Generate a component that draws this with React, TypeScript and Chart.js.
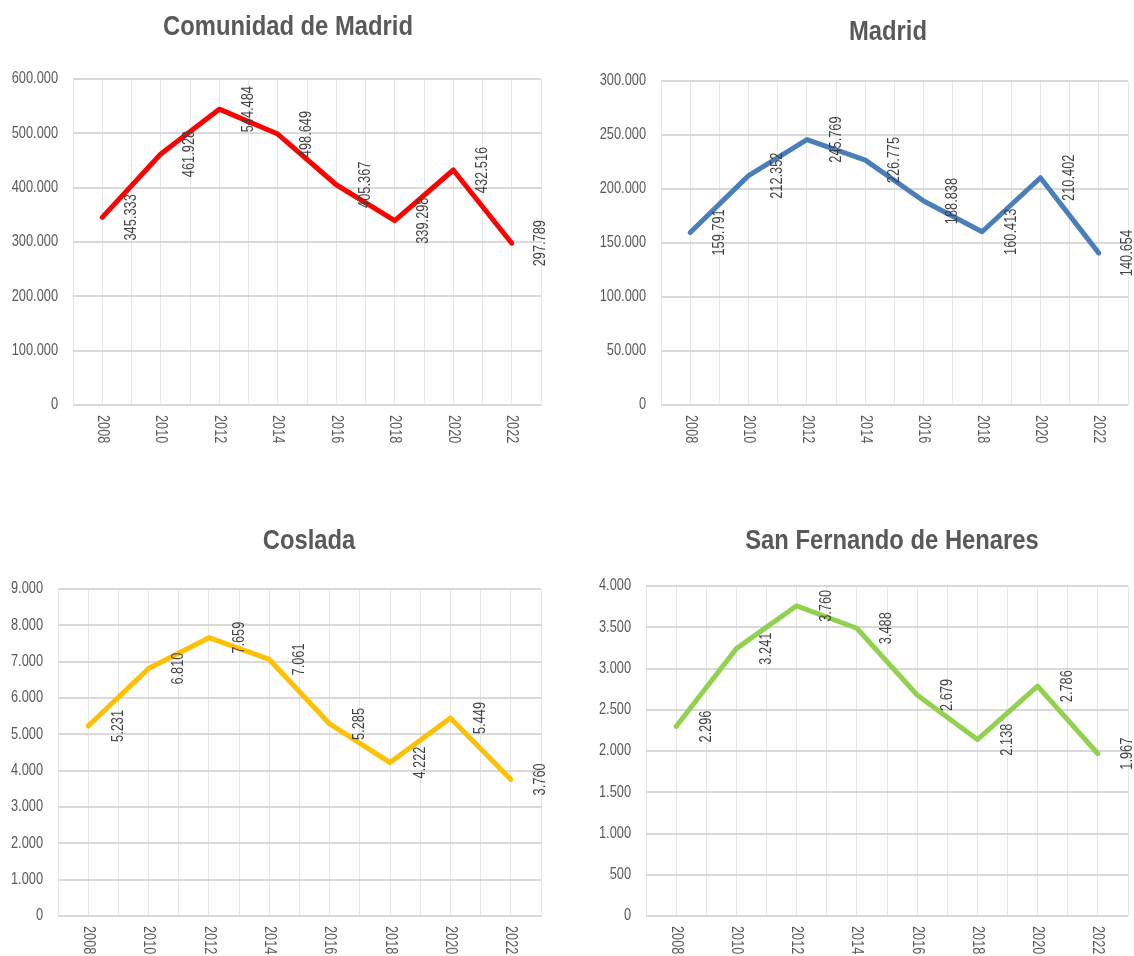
import React, { useEffect, useRef } from 'react';
import { Chart, registerables } from 'chart.js';

Chart.register(...registerables);

// ---------- data ----------
const YEARS = [2008, 2010, 2012, 2014, 2016, 2018, 2020, 2022];
const COMUNIDAD_MADRID = [345333, 461928, 544484, 498649, 405367, 339298, 432516, 297789];
const MADRID = [159791, 212352, 245769, 226775, 188838, 160413, 210402, 140654];
const COSLADA = [5231, 6810, 7659, 7061, 5285, 4222, 5449, 3760];
const SAN_FERNANDO = [2296, 3241, 3760, 3488, 2679, 2138, 2786, 1967];

const TITLES = ['Comunidad de Madrid', 'Madrid', 'Coslada', 'San Fernando de Henares'];
const SERIES = [COMUNIDAD_MADRID, MADRID, COSLADA, SAN_FERNANDO];
const Y_MAX = [600000, 300000, 9000, 4000];
const Y_STEP = [100000, 50000, 1000, 500];

// ---------- styles / layout ----------
const COLORS = ['#FF0000', '#4A7EBB', '#FFC000', '#92D050'];
const FONT = '"Liberation Sans", Arial, sans-serif';
const TEXT = '#595959';
const LABEL = '#404040';
const TITLE_SQUEEZE = 0.85; // horizontal squeeze to imitate a narrow typeface
const SMALL_SQUEEZE = 0.8;

// canvas placement and plot area (page px)
const PANELS = [
  { x: 0, y: 0, w: 567, h: 478, left: 73, right: 541, top: 79, bottom: 405, tx: 288, ty: 27 },
  { x: 567, y: 0, w: 567, h: 478, left: 661, right: 1128, top: 81, bottom: 405, tx: 888, ty: 32 },
  { x: 0, y: 478, w: 567, h: 478, left: 58, right: 541, top: 589, bottom: 916, tx: 309, ty: 541 },
  { x: 567, y: 478, w: 567, h: 478, left: 646, right: 1128, top: 586, bottom: 916, tx: 892, ty: 541 },
];

const fmt = (v: number) => String(Math.round(v)).replace(/\B(?=(\d{3})+(?!\d))/g, '.');

function drawText(
  ctx: CanvasRenderingContext2D,
  text: string,
  x: number,
  y: number,
  rot: number,
  align: CanvasTextAlign,
  squeeze: number,
) {
  ctx.save();
  ctx.translate(x, y);
  ctx.rotate(rot);
  ctx.scale(squeeze, 1);
  ctx.textAlign = align;
  ctx.textBaseline = 'middle';
  ctx.fillText(text, 0, 0);
  ctx.restore();
}

const decoPlugin = {
  id: 'panelDeco',
  afterDraw(chart: any, _args: any, opts: any) {
    const { ctx } = chart;
    const xs = chart.scales.x;
    const ys = chart.scales.y;
    ctx.save();
    // title
    ctx.font = `bold 28px ${FONT}`;
    ctx.fillStyle = TEXT;
    drawText(ctx, opts.title, opts.tx, opts.ty, 0, 'center', TITLE_SQUEEZE);

    // y tick labels
    ctx.font = `16px ${FONT}`;
    ctx.fillStyle = TEXT;
    for (const t of ys.ticks) {
      drawText(ctx, fmt(t.value), ys.right - 15, ys.getPixelForValue(t.value), 0, 'right', SMALL_SQUEEZE);
    }

    // x tick labels (reading top to bottom)
    for (const yr of YEARS) {
      drawText(ctx, String(yr), xs.getPixelForValue(yr), ys.bottom + 10, Math.PI / 2, 'left', SMALL_SQUEEZE);
    }

    // data labels (reading bottom to top)
    ctx.fillStyle = LABEL;
    const data = chart.data.datasets[0].data;
    for (const p of data) {
      drawText(ctx, fmt(p.y), xs.getPixelForValue(p.x + 1), ys.getPixelForValue(p.y), -Math.PI / 2, 'center', SMALL_SQUEEZE);
    }
    ctx.restore();
  },
};

function Panel({ idx }: { idx: number }) {
  const ref = useRef<HTMLCanvasElement | null>(null);
  const P = PANELS[idx];
  useEffect(() => {
    if (!ref.current) return;
    const values = SERIES[idx];
    const chart = new Chart(ref.current, {
      type: 'line',
      data: {
        datasets: [
          {
            data: YEARS.map((yr, i) => ({ x: yr, y: values[i] })),
            borderColor: COLORS[idx],
            backgroundColor: COLORS[idx],
            borderWidth: 5,
            pointRadius: 0,
            tension: 0,
            borderJoinStyle: 'round',
            borderCapStyle: 'round',
          },
        ],
      },
      options: {
        responsive: false,
        animation: false,
        devicePixelRatio: 1,
        layout: {
          padding: { left: 0, right: P.x + P.w - P.right, top: P.top - P.y, bottom: 0 },
        },
        plugins: {
          legend: { display: false },
          title: { display: false },
          tooltip: { enabled: false },
          panelDeco: { title: TITLES[idx], tx: P.tx - P.x, ty: P.ty - P.y },
        } as any,
        scales: {
          x: {
            type: 'linear',
            min: YEARS[0] - 1,
            max: YEARS[YEARS.length - 1] + 1,
            ticks: { display: false, stepSize: 1 },
            grid: { color: '#E6E6E6', lineWidth: 1, drawTicks: false },
            border: { display: false },
            afterFit: (s: any) => {
              s.height = P.y + P.h - P.bottom;
              s.paddingLeft = 0;
              s.paddingRight = 0;
            },
          },
          y: {
            min: 0,
            max: Y_MAX[idx],
            ticks: { display: false, stepSize: Y_STEP[idx] },
            grid: { color: '#D9D9D9', lineWidth: 2, drawTicks: false },
            border: { display: false },
            afterFit: (s: any) => {
              s.width = P.left - P.x;
              s.paddingTop = 0;
              s.paddingBottom = 0;
            },
          },
        },
      } as any,
      plugins: [decoPlugin],
    });
    return () => chart.destroy();
  }, [idx]);
  return (
    <canvas
      ref={ref}
      width={P.w}
      height={P.h}
      style={{ position: 'absolute', left: P.x, top: P.y, width: P.w, height: P.h }}
    />
  );
}

export default function App() {
  return (
    <div style={{ position: 'absolute', left: 0, top: 0, width: 1134, height: 956, background: '#ffffff', overflow: 'hidden' }}>
      {PANELS.map((_, i) => (
        <Panel key={i} idx={i} />
      ))}
    </div>
  );
}
